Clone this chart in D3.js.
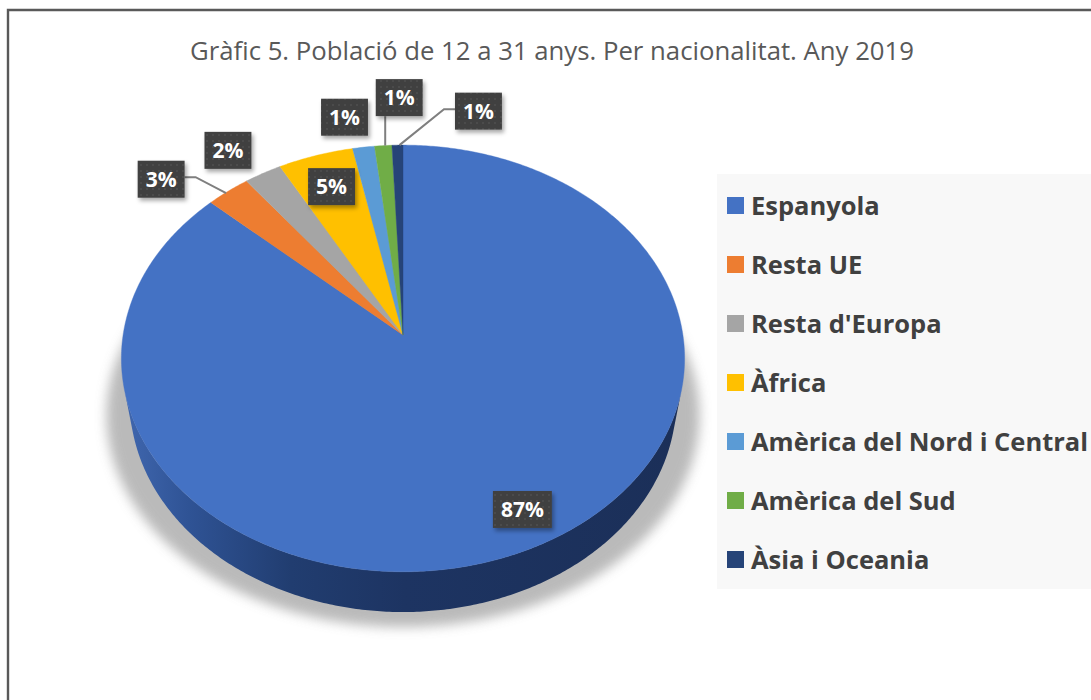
<!DOCTYPE html>
<html>
<head>
<meta charset="utf-8">
<script src="https://cdn.jsdelivr.net/npm/d3@7"></script>
<style>
  html, body { margin: 0; padding: 0; background: #ffffff; }
  svg { display: block; }
</style>
</head>
<body>
<div id="chart"></div>
<script>
// ---------- data ----------
const title = "Gràfic 5. Població de 12 a 31 anys. Per nacionalitat. Any 2019";
const categories = ["Espanyola", "Resta UE", "Resta d'Europa", "Àfrica",
  "Amèrica del Nord i Central", "Amèrica del Sud", "Àsia i Oceania"];
const values = [86.8, 2.8, 2.4, 4.8, 1.4, 1.1, 0.7];
const colors = ["#4472C4", "#ED7D31", "#A5A5A5", "#FFC000", "#5B9BD5", "#70AD47", "#264478"];

// label layout: offset of label centre from slice outer-edge midpoint
const labelOffsets = [[-6, -40], [-67, -12], [-35, -23], [16, 31], [-19, -30], [16, -48], [81, -34]];
const labelLeaders = [false, true, false, false, false, true, true];

// ---------- layout ----------
const W = 1091, H = 700;
const svg = d3.select("#chart").append("svg").attr("width", W).attr("height", H);
const defs = svg.append("defs");

// 3D projection of the pie (camera elevation / perspective)
const P = { cx: 403, cy: 335, F: 1676.6, D: 5.99, c: 0.658, s: 0.753, h: 0.24 };
function proj(theta, y, r = 1) {
  const x = r * Math.sin(theta), z = r * Math.cos(theta);
  const dist = P.D - y * P.s + z * P.c;
  return [P.cx + P.F * x / dist, P.cy - P.F * (y * P.c + z * P.s) / dist];
}
function arcPts(a0, a1, y) {
  const n = Math.max(2, Math.ceil((a1 - a0) / 0.01));
  return d3.range(n + 1).map(i => proj(a0 + (a1 - a0) * i / n, y));
}

// border
svg.append("path").attr("d", `M8,${H + 5} V10 H${W + 5}`)
  .attr("fill", "none").attr("stroke", "#595959").attr("stroke-width", 2.4);

// title
svg.append("text").attr("x", 552).attr("y", 60).attr("text-anchor", "middle")
  .attr("font-family", "'Open Sans', sans-serif").attr("font-weight", 400)
  .attr("font-size", 25).attr("fill", "#595959")
  .attr("textLength", 724).attr("lengthAdjust", "spacingAndGlyphs")
  .text(title);

// filters / gradients / patterns
const blur = defs.append("filter").attr("id", "shadowBlur")
  .attr("x", "-20%").attr("y", "-20%").attr("width", "140%").attr("height", "140%");
blur.append("feGaussianBlur").attr("stdDeviation", 6);

const lblShadow = defs.append("filter").attr("id", "lblShadow")
  .attr("x", "-30%").attr("y", "-30%").attr("width", "160%").attr("height", "160%");
lblShadow.append("feDropShadow").attr("dx", 2).attr("dy", 3).attr("stdDeviation", 2)
  .attr("flood-color", "#000").attr("flood-opacity", 0.35);

const sideGrad = defs.append("linearGradient").attr("id", "sideGrad")
  .attr("gradientUnits", "userSpaceOnUse").attr("x1", 120).attr("x2", 690).attr("y1", 0).attr("y2", 0);
[[0, "#4168b0"], [0.12, "#2f5395"], [0.3, "#213d70"], [0.5, "#1d3462"], [1, "#1b2f58"]]
  .forEach(([o, c]) => sideGrad.append("stop").attr("offset", o).attr("stop-color", c));

const pat = defs.append("pattern").attr("id", "dots").attr("patternUnits", "userSpaceOnUse")
  .attr("width", 6).attr("height", 6);
pat.append("rect").attr("width", 6).attr("height", 6).attr("fill", "#404040");
pat.append("circle").attr("cx", 3).attr("cy", 3).attr("r", 0.7).attr("fill", "#5e5e5e");

// pie angles
const pie = d3.pie().sort(null).value(d => d);
const arcs = pie(values);

// shadow under pie
const line = d3.line();
const bottomRing = arcPts(0, 2 * Math.PI, -P.h).map(([x, y]) => [P.cx + (x - P.cx) * 1.085, y + 15]);
svg.append("path").attr("d", line(bottomRing) + "Z")
  .attr("fill", "#a9a9a9").attr("opacity", 0.8).attr("filter", "url(#shadowBlur)");

// side walls (visible front part)
const thA = Math.acos(-1 / (P.D * P.c));
const g = svg.append("g");
arcs.forEach((a, i) => {
  const lo = Math.max(a.startAngle, thA), hi = Math.min(a.endAngle, 2 * Math.PI - thA);
  if (hi <= lo) return;
  const pts = arcPts(lo, hi, 0).concat(arcPts(lo, hi, -P.h).reverse());
  g.append("path").attr("d", line(pts) + "Z")
    .attr("fill", i === 0 ? "url(#sideGrad)" : d3.color(colors[i]).darker(1.2));
});

// top faces
arcs.forEach((a, i) => {
  const pts = [[P.cx, P.cy]].concat(arcPts(a.startAngle, a.endAngle, 0));
  g.append("path").attr("d", line(pts) + "Z").attr("fill", colors[i])
    .attr("stroke", colors[i]).attr("stroke-width", 0.4);
});

// legend
const legend = svg.append("g");
legend.append("rect").attr("x", 717).attr("y", 174).attr("width", W - 717 + 5).attr("height", 415)
  .attr("fill", "#f8f8f8");
const ly = d3.scalePoint().domain(categories).range([205.5, 559.5]);
categories.forEach((c, i) => {
  legend.append("rect").attr("x", 727).attr("y", ly(c) - 8.5).attr("width", 17).attr("height", 17)
    .attr("fill", colors[i]);
  legend.append("text").attr("x", 751).attr("y", ly(c) + 9)
    .attr("font-family", "'Open Sans', sans-serif").attr("font-weight", 700)
    .attr("font-size", 25.5).attr("fill", "#404040").text(c);
});

// data labels
const fmt = d3.format(".0%");
const labels = svg.append("g");
arcs.forEach((a, i) => {
  const mid = (a.startAngle + a.endAngle) / 2;
  const [ax, ay] = proj(mid, 0);
  const lx = ax + labelOffsets[i][0], lyy = ay + labelOffsets[i][1];
  const grp = labels.append("g");
  const txt = fmt(values[i] / 100);
  const t = grp.append("text").attr("x", lx).attr("y", lyy + 7.5).attr("text-anchor", "middle")
    .attr("font-family", "'Open Sans', sans-serif").attr("font-weight", 700)
    .attr("font-size", 21).attr("fill", "#ffffff").text(txt);
  const tw = t.node().getComputedTextLength();
  const bw = tw + 16, bh = 37;
  const bx = lx - bw / 2, by = lyy - bh / 2;
  grp.insert("rect", "text").attr("x", bx).attr("y", by).attr("width", bw).attr("height", bh)
    .attr("fill", "url(#dots)").attr("filter", "url(#lblShadow)");
  if (labelLeaders[i]) {
    let pts;
    if (Math.abs(lx - ax) < 20) {
      pts = [[ax + 2, ay], [ax + 2, by + bh]];
    } else if (lx < ax) {
      pts = [[ax - 2, ay + 2], [bx + bw + 11, lyy - 2], [bx + bw, lyy - 2]];
    } else {
      pts = [[ax + 2, ay], [bx - 11, lyy - 2], [bx, lyy - 2]];
    }
    labels.insert("path", "g").attr("d", line(pts)).attr("fill", "none")
      .attr("stroke", "#7f7f7f").attr("stroke-width", 2);
  }
});
</script>
</body>
</html>
